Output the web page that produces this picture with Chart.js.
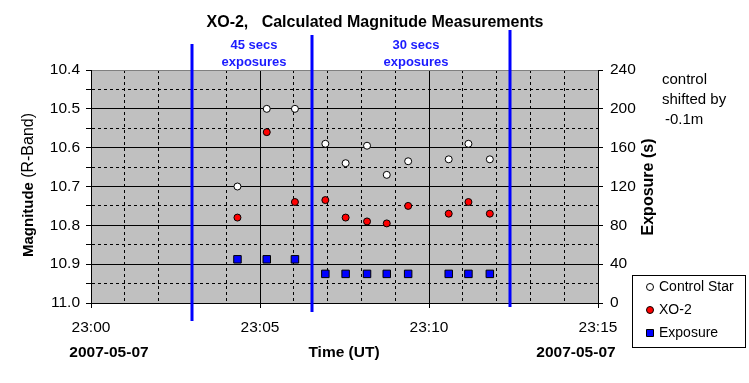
<!DOCTYPE html>
<html>
<head>
<meta charset="utf-8">
<script src="https://cdn.jsdelivr.net/npm/chart.js@4.4.1/dist/chart.umd.min.js"></script>
<style>
  body { margin: 0; background: #fff; }
</style>
</head>
<body>
<canvas id="magChart" width="749" height="383"></canvas>
<script>
// observation times (UT, 2007-05-07)
var obsTimes = ["23:04:20", "23:05:12", "23:06:02", "23:06:56", "23:07:32", "23:08:10",
                "23:08:45", "23:09:23", "23:10:35", "23:11:10", "23:11:48"];
var controlMag = [10.70, 10.50, 10.50, 10.59, 10.64, 10.595, 10.67, 10.635, 10.63, 10.59, 10.63];
var xo2Mag = [10.78, 10.56, 10.74, 10.735, 10.78, 10.79, 10.795, 10.75, 10.77, 10.74, 10.77];
var exposureSecs = [45, 45, 45, 30, 30, 30, 30, 30, 30, 30, 30];
// blue separator lines between exposure blocks
var breakTimes = ["23:03:00", "23:06:33", "23:12:24"];

// minutes after 23:00
function toMin(t) {
  var p = t.split(":");
  return (+p[0] - 23) * 60 + (+p[1]) + (+p[2]) / 60;
}
function pts(vals) {
  return vals.map(function (v, i) { return { x: toMin(obsTimes[i]), y: v }; });
}

var FONT = "'Liberation Sans', Arial, sans-serif";
Chart.defaults.font.family = FONT;
Chart.defaults.color = "black";

var isMajorMag = function (v) { return Math.round(v * 100) % 10 === 0; };

var plotBg = {
  id: "plotBg",
  beforeDraw: function (chart) {
    var a = chart.chartArea, ctx = chart.ctx;
    ctx.save();
    ctx.fillStyle = "#c0c0c0";
    ctx.fillRect(a.left, a.top, a.right - a.left, a.bottom - a.top);
    ctx.restore();
  }
};

var extras = {
  id: "extras",
  afterDatasetsDraw: function (chart) {
    var ctx = chart.ctx, xs = chart.scales.x;
    var ext = [[44, 321], [35, 312], [30, 307]];
    ctx.save();
    ctx.strokeStyle = "#0000ff";
    ctx.lineWidth = 3;
    breakTimes.forEach(function (t, i) {
      var px = Math.round(xs.getPixelForValue(toMin(t)));
      ctx.beginPath();
      ctx.moveTo(px, ext[i][0]);
      ctx.lineTo(px, ext[i][1]);
      ctx.stroke();
    });
    ctx.restore();
  },
  afterDraw: function (chart) {
    var ctx = chart.ctx;
    ctx.save();
    ctx.fillStyle = "#000";
    ctx.textBaseline = "middle";
    ctx.textAlign = "center";
    ctx.font = "bold 16px " + FONT;
    ctx.fillText("XO-2,   Calculated Magnitude Measurements", 375, 23);

    ctx.fillStyle = "#1a1aff";
    ctx.font = "bold 13px " + FONT;
    ctx.fillText("45 secs", 254, 45);
    ctx.fillText("exposures", 254, 62);
    ctx.fillText("30 secs", 416, 45);
    ctx.fillText("exposures", 416, 62);

    ctx.fillStyle = "#000";
    ctx.font = "bold 15.5px " + FONT;
    ctx.fillText("2007-05-07", 109, 353);
    ctx.fillText("2007-05-07", 576, 353);
    ctx.fillText("Time (UT)", 344, 353);

    ctx.textAlign = "left";
    ctx.font = "15px " + FONT;
    ctx.fillText("control", 662, 80);
    ctx.fillText("shifted by", 662, 100);
    ctx.fillText("-0.1m", 665, 120);

    // right axis title
    ctx.save();
    ctx.translate(649, 187);
    ctx.rotate(-Math.PI / 2);
    ctx.textAlign = "center";
    ctx.font = "bold 16px " + FONT;
    ctx.fillText("Exposure (s)", 0, 0);
    ctx.restore();

    // left axis title, mixed weight
    ctx.save();
    ctx.translate(29, 185);
    ctx.rotate(-Math.PI / 2);
    ctx.textAlign = "left";
    ctx.font = "bold 15px " + FONT;
    var w1 = ctx.measureText("Magnitude ").width;
    ctx.font = "16px " + FONT;
    var w2 = ctx.measureText("(R-Band)").width;
    var x0 = -(w1 + w2) / 2;
    ctx.font = "bold 15px " + FONT;
    ctx.fillText("Magnitude ", x0, 0);
    ctx.font = "16px " + FONT;
    ctx.fillText("(R-Band)", x0 + w1, 0);
    ctx.restore();

    // legend
    ctx.strokeStyle = "#000";
    ctx.lineWidth = 1;
    ctx.strokeRect(632.5, 275.5, 113, 72);
    ctx.font = "14px " + FONT;
    var rows = [287, 310, 333];
    chart.data.datasets.forEach(function (ds, i) {
      var y = rows[i];
      ctx.fillStyle = ds.backgroundColor;
      ctx.strokeStyle = ds.borderColor;
      ctx.beginPath();
      if (ds.pointStyle === "rect") {
        ctx.rect(646.5, y - 3.5, 7, 7);
      } else {
        ctx.arc(650, y, 3.5, 0, Math.PI * 2);
      }
      ctx.fill();
      ctx.stroke();
      ctx.fillStyle = "#000";
      ctx.fillText(ds.label, 659, y);
    });
    ctx.restore();
  }
};

new Chart(document.getElementById("magChart"), {
  type: "scatter",
  data: {
    datasets: [{
      label: "Control Star",
      data: pts(controlMag),
      yAxisID: "y",
      pointStyle: "circle",
      pointRadius: 3.5,
      backgroundColor: "#ffffff",
      borderColor: "#000000",
      borderWidth: 1
    }, {
      label: "XO-2",
      data: pts(xo2Mag),
      yAxisID: "y",
      pointStyle: "circle",
      pointRadius: 3.5,
      backgroundColor: "#ff0000",
      borderColor: "#000000",
      borderWidth: 1
    }, {
      label: "Exposure",
      data: pts(exposureSecs),
      yAxisID: "y2",
      pointStyle: "rect",
      pointRadius: 5.3,
      backgroundColor: "#0000ff",
      borderColor: "#000000",
      borderWidth: 1
    }]
  },
  options: {
    responsive: false,
    animation: false,
    devicePixelRatio: 1,
    layout: { padding: { top: 70, left: 0, right: 0, bottom: 0 } },
    plugins: {
      legend: { display: false },
      tooltip: { enabled: false }
    },
    scales: {
      x: {
        type: "linear",
        min: 0,
        max: 15,
        afterFit: function (s) { s.height = 80; },
        ticks: {
          stepSize: 1,
          autoSkip: false,
          maxRotation: 0,
          padding: 10,
          font: { size: 15.5 },
          callback: function (v) {
            return v % 5 === 0 ? "23:" + (v < 10 ? "0" : "") + v : "";
          }
        },
        grid: {
          color: "#000",
          tickLength: 5,
          tickColor: function (c) { return c.tick && c.tick.value % 5 === 0 ? "#000" : "rgba(0,0,0,0)"; }
        },
        border: {
          color: "#000",
          dash: function (c) { return c.tick && c.tick.value % 5 !== 0 ? [3, 3] : []; }
        }
      },
      y: {
        position: "left",
        reverse: true,
        min: 10.4,
        max: 11.0,
        afterFit: function (s) { s.width = 91; },
        ticks: {
          stepSize: 0.05,
          autoSkip: false,
          padding: 6,
          font: { size: 15.5 },
          callback: function (v) { return isMajorMag(v) ? v.toFixed(1) : ""; }
        },
        grid: {
          tickLength: 5,
          tickColor: "#000",
          color: function (c) {
            if (c.tick && Math.abs(c.tick.value - 10.4) < 1e-6) return "#808080";
            return "#000";
          }
        },
        border: {
          color: "#000",
          dash: function (c) { return c.tick && !isMajorMag(c.tick.value) ? [3, 3] : []; }
        }
      },
      y2: {
        position: "right",
        min: 0,
        max: 240,
        afterFit: function (s) { s.width = 151; },
        ticks: {
          stepSize: 40,
          padding: 7,
          font: { size: 15.5 }
        },
        grid: {
          drawOnChartArea: false,
          tickLength: 5,
          tickColor: "#000"
        },
        border: { color: "#000" }
      }
    }
  },
  plugins: [plotBg, extras]
});
</script>
</body>
</html>
